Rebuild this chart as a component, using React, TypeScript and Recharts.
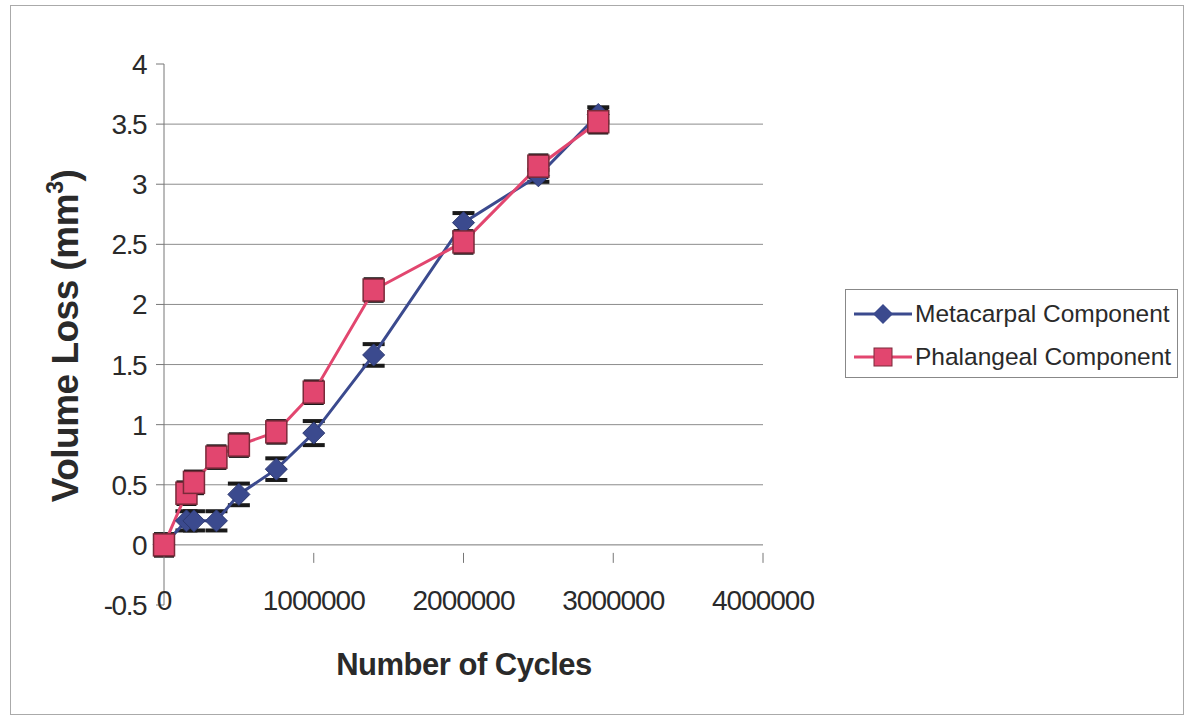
import { LineChart, Line, XAxis, YAxis, ReferenceLine, ErrorBar } from "recharts";

const cycles = [0, 150000, 200000, 350000, 500000, 750000, 1000000, 1400000, 2000000, 2500000, 2900000];
const metacarpal = [0, 0.2, 0.2, 0.2, 0.42, 0.63, 0.93, 1.58, 2.68, 3.07, 3.58];
const metacarpalErr = [0.05, 0.08, 0.08, 0.08, 0.09, 0.09, 0.1, 0.09, 0.08, 0.05, 0.06];
const phalangeal = [0, 0.43, 0.52, 0.73, 0.83, 0.94, 1.27, 2.12, 2.52, 3.15, 3.52];
const phalangealErr = [0.09, 0.09, 0.09, 0.09, 0.09, 0.09, 0.09, 0.09, 0.09, 0.09, 0.09];
const xTicks = [0, 1000000, 2000000, 3000000, 4000000];
const yTicks = [-0.5, 0, 0.5, 1, 1.5, 2, 2.5, 3, 3.5, 4];
const gridValues = [0.5, 1, 1.5, 2, 2.5, 3, 3.5];
const legendItems = [
  { label: "Metacarpal Component", shape: "diamond" },
  { label: "Phalangeal Component", shape: "square" },
];

const data = cycles.map((c, i) => ({
  cycles: c,
  met: metacarpal[i],
  metErr: metacarpalErr[i],
  phal: phalangeal[i],
  phalErr: phalangealErr[i],
}));

const BLUE = "#3b4a8e";
const RED = "#e2466f";
const TEXT = "#2a2a2a";
const FONT = "'Liberation Sans', Arial, sans-serif";

const W = 1186;
const H = 720;
const M = { top: 64, right: 423, bottom: 85, left: 104 };
const Y_AXIS_W = 60;
const X_AXIS_H = 30;
const PLOT_H = H - M.top - M.bottom - X_AXIS_H;
// distance from the bottom of the plot (-0.5) up to the zero line
const ZERO_SHIFT = (PLOT_H * 0.5) / 4.5;

function Diamond(props: any) {
  const { cx, cy, index } = props;
  if (cx == null || cy == null) return <g key={index} />;
  const r = 11;
  return (
    <polygon
      key={index}
      points={`${cx},${cy - r} ${cx + r},${cy} ${cx},${cy + r} ${cx - r},${cy}`}
      fill={BLUE}
      stroke="#2c3870"
      strokeWidth={1}
    />
  );
}

function Square(props: any) {
  const { cx, cy, index } = props;
  if (cx == null || cy == null) return <g key={index} />;
  return (
    <rect key={index} x={cx - 10.5} y={cy - 11} width={21} height={22} fill={RED} stroke="#7a2a3a" strokeWidth={1.5} />
  );
}

function XTick(props: any) {
  const { x, y, payload } = props;
  const zy = y - ZERO_SHIFT;
  return (
    <g>
      {payload.value !== 0 && <line x1={x} y1={zy} x2={x} y2={zy + 10} stroke="#777" strokeWidth={1} />}
      <text x={x} y={zy + 57} textAnchor="middle" fontSize={28} fontFamily={FONT} fill={TEXT} letterSpacing={-1}>
        {payload.value}
      </text>
    </g>
  );
}

function YTick(props: any) {
  const { x, y, payload } = props;
  return (
    <text x={x - 8} y={y + 10} textAnchor="end" fontSize={28} fontFamily={FONT} fill={TEXT} letterSpacing={-1.5}>
      {payload.value}
    </text>
  );
}

function LegendBox() {
  return (
    <div
      style={{
        position: "absolute",
        left: 845,
        top: 289,
        width: 333,
        height: 89,
        border: "1px solid #888",
        background: "#fff",
        boxSizing: "border-box",
        padding: "5px 0 0 6px",
        fontFamily: FONT,
      }}
    >
      {legendItems.map((r) => {
        const color = r.shape === "diamond" ? BLUE : RED;
        return (
          <div key={r.label} style={{ display: "flex", alignItems: "center", height: 38, marginBottom: 5 }}>
            <svg width={62} height={30}>
              <line x1={2} y1={15} x2={60} y2={15} stroke={color} strokeWidth={3} />
              {r.shape === "diamond" ? (
                <polygon points="31,5 41,15 31,25 21,15" fill={color} />
              ) : (
                <rect x={22} y={6} width={18} height={18} fill={color} stroke="#7a2a3a" />
              )}
            </svg>
            <span style={{ fontSize: 24.5, color: TEXT, marginLeft: 1, whiteSpace: "nowrap" }}>{r.label}</span>
          </div>
        );
      })}
    </div>
  );
}

export default function App() {
  return (
    <div style={{ position: "absolute", left: 0, top: 0, width: W, height: H, background: "#fff" }}>
      <div
        style={{
          position: "absolute",
          left: 10,
          top: 5,
          width: 1174,
          height: 710,
          border: "1px solid #aaa",
          boxSizing: "border-box",
        }}
      />
      <div style={{ position: "absolute", left: 0, top: 0 }}>
        <LineChart width={W} height={H} data={data} margin={M}>
          {gridValues.map((v) => (
            <ReferenceLine key={v} y={v} stroke="#8c8c8c" strokeWidth={1} />
          ))}
          <ReferenceLine y={0} stroke="#777" strokeWidth={1} />
          <XAxis
            dataKey="cycles"
            type="number"
            domain={[0, 4000000]}
            ticks={xTicks}
            axisLine={false}
            tickLine={false}
            tick={<XTick />}
            height={X_AXIS_H}
            interval={0}
          />
          <YAxis
            type="number"
            domain={[-0.5, 4]}
            ticks={yTicks}
            interval={0}
            width={Y_AXIS_W}
            axisLine={{ stroke: "#777" }}
            tickLine={{ stroke: "#777" }}
            tickSize={8}
            tick={<YTick />}
            allowDataOverflow
          />
          <Line
            dataKey="met"
            stroke={BLUE}
            strokeWidth={3}
            dot={Diamond}
            activeDot={false}
            isAnimationActive={false}
          >
            <ErrorBar dataKey="metErr" width={11} stroke="#1a1a1a" strokeWidth={4} direction="y" />
          </Line>
          <Line
            dataKey="phal"
            stroke={RED}
            strokeWidth={3}
            dot={Square}
            activeDot={false}
            isAnimationActive={false}
          >
            <ErrorBar dataKey="phalErr" width={10} stroke="#1a1a1a" strokeWidth={4} direction="y" />
          </Line>
        </LineChart>
      </div>
      <svg style={{ position: "absolute", left: 0, top: 0, pointerEvents: "none" }} width={W} height={H}>
        <text
          transform="translate(78,336) rotate(-90)"
          textAnchor="middle"
          fontSize={37}
          fontWeight="bold"
          fontFamily={FONT}
          fill={TEXT}
          letterSpacing={-0.5}
        >
          Volume Loss (mm
          <tspan fontSize={23} dy={-15}>3</tspan>
          <tspan dy={15}>)</tspan>
        </text>
        <text
          x={464}
          y={675}
          textAnchor="middle"
          fontSize={31}
          fontWeight="bold"
          fontFamily={FONT}
          fill={TEXT}
          letterSpacing={-0.5}
        >
          Number of Cycles
        </text>
      </svg>
      <LegendBox />
    </div>
  );
}
